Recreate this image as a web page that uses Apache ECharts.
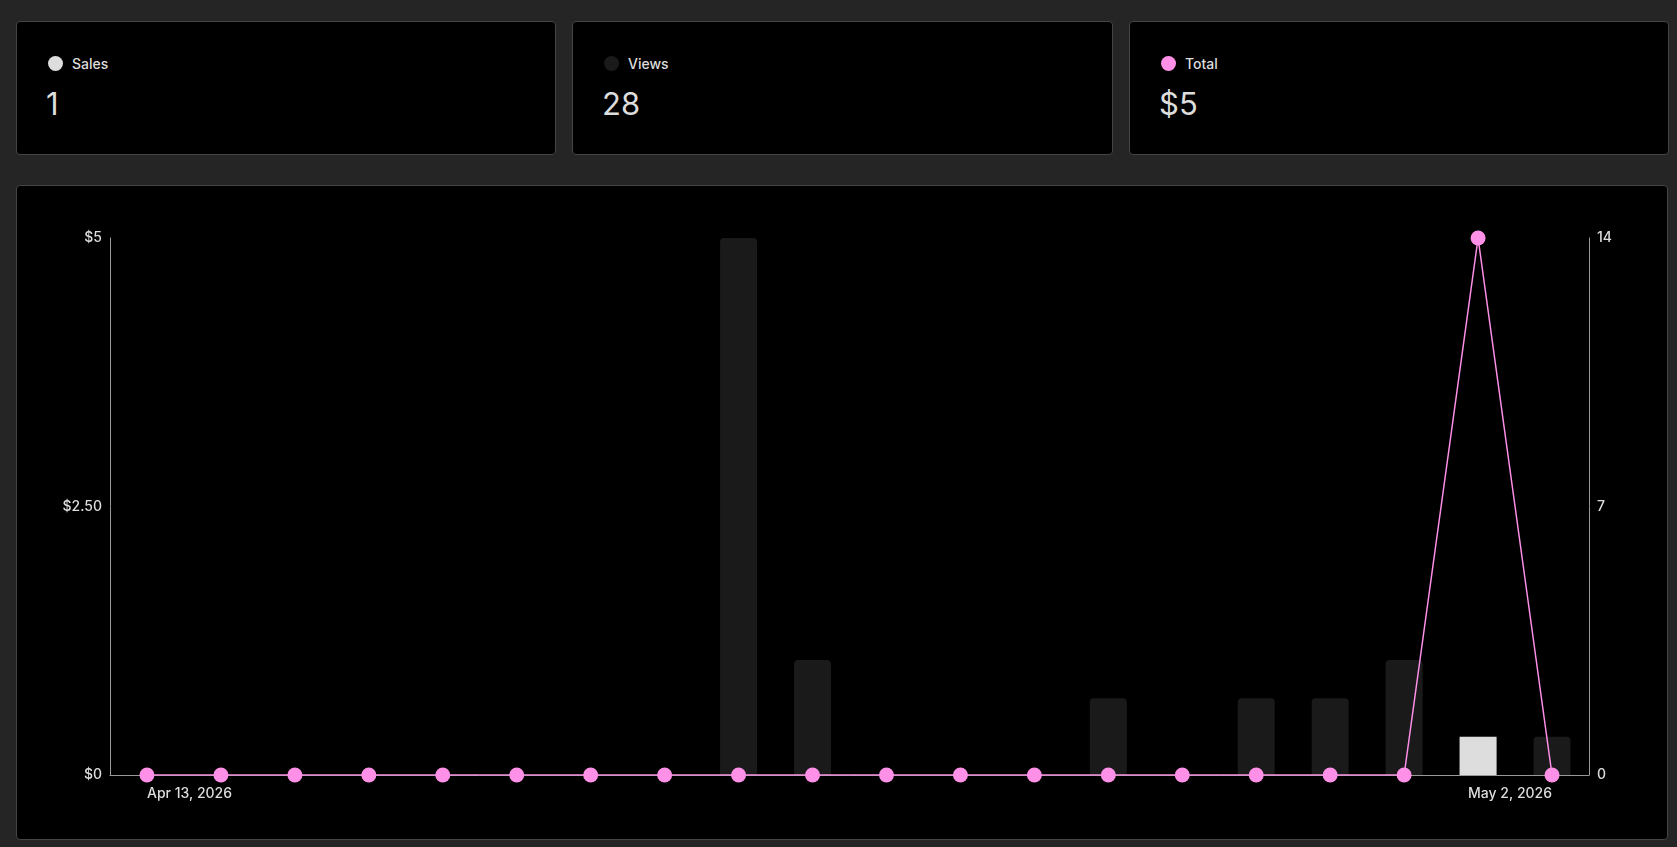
<!DOCTYPE html>
<html>
<head>
<meta charset="utf-8">
<script src="https://cdn.jsdelivr.net/npm/echarts@6/dist/echarts.min.js"></script>
<style>
  html, body { margin: 0; padding: 0; background: #252525; width: 1677px; height: 847px; overflow: hidden; font-family: Inter, "Noto Sans", sans-serif; }
  .card { position: absolute; top: 21px; height: 134px; background: #000; border: 1px solid #444; border-radius: 4px; box-sizing: border-box; }
  .lab { position: absolute; left: 31px; top: 33px; font-size: 14px; color: #ddd; display: flex; align-items: center; font-weight: 500; }
  .dot { width: 15px; height: 15px; border-radius: 50%; display: inline-block; margin-right: 9px; }
  .val { position: absolute; left: 29px; top: 63px; font-size: 31px; color: #ddd; }
  #panel { position: absolute; left: 16px; top: 185px; width: 1652px; height: 655px; background: #000; border: 1px solid #444; border-radius: 4px; box-sizing: border-box; }
  #chart { position: absolute; left: 0; top: 0; width: 1650px; height: 653px; }
</style>
</head>
<body>
<div class="card" style="left:16px;width:540px;"><div class="lab"><span class="dot" style="background:#dddddd"></span>Sales</div><div class="val">1</div></div>
<div class="card" style="left:572px;width:541px;"><div class="lab"><span class="dot" style="background:#1a1a1a"></span>Views</div><div class="val">28</div></div>
<div class="card" style="left:1129px;width:540px;"><div class="lab"><span class="dot" style="background:#ff90e8"></span>Total</div><div class="val">$5</div></div>
<div id="panel"><div id="chart"></div></div>
<script>
const dates = ['Apr 13, 2026','Apr 14, 2026','Apr 15, 2026','Apr 16, 2026','Apr 17, 2026','Apr 18, 2026','Apr 19, 2026','Apr 20, 2026','Apr 21, 2026','Apr 22, 2026','Apr 23, 2026','Apr 24, 2026','Apr 25, 2026','Apr 26, 2026','Apr 27, 2026','Apr 28, 2026','Apr 29, 2026','Apr 30, 2026','May 1, 2026','May 2, 2026'];
const views = [0,0,0,0,0,0,0,0,14,3,0,0,0,2,0,2,2,3,1,1];
const sales = [0,0,0,0,0,0,0,0,0,0,0,0,0,0,0,0,0,0,1,0];
const totals = [0,0,0,0,0,0,0,0,0,0,0,0,0,0,0,0,0,0,5,0];
const leftTicks = [0, 2.5, 5];
const rightTicks = [0, 7, 14];

const chart = echarts.init(document.getElementById('chart'), null, { renderer: 'canvas' });
const labelStyle = { color: '#dddddd', fontSize: 14, fontWeight: 500, fontFamily: 'Inter, sans-serif' };
chart.setOption({
  backgroundColor: 'transparent',
  animation: false,
  grid: { left: 93, right: 78, top: 52, bottom: 64 },
  xAxis: {
    type: 'category', data: dates, boundaryGap: true,
    axisLine: { lineStyle: { color: '#999999', width: 1 } },
    axisTick: { show: false },
    axisLabel: Object.assign({}, labelStyle, {
      margin: 12,
      interval: (i) => i === 0 || i === dates.length - 1,
      alignMinLabel: 'left', alignMaxLabel: 'right'
    })
  },
  yAxis: [
    {
      type: 'value', min: leftTicks[0], max: leftTicks[2], interval: leftTicks[1],
      axisLine: { show: true, lineStyle: { color: '#999999' } },
      axisTick: { show: false }, splitLine: { show: false },
      axisLabel: Object.assign({}, labelStyle, { margin: 8, formatter: (v) => v === 2.5 ? '$2.50' : '$' + v })
    },
    {
      type: 'value', min: rightTicks[0], max: rightTicks[2], interval: rightTicks[1],
      axisLine: { show: true, lineStyle: { color: '#999999' } },
      axisTick: { show: false }, splitLine: { show: false },
      axisLabel: Object.assign({}, labelStyle, { margin: 8 })
    }
  ],
  series: [
    { name: 'Views', type: 'bar', yAxisIndex: 1, data: views, barWidth: 37, barGap: '-100%',
      itemStyle: { color: '#1a1a1a', borderRadius: [4,4,0,0] } },
    { name: 'Sales', type: 'bar', yAxisIndex: 1, data: sales, barWidth: 37, barGap: '-100%',
      itemStyle: { color: '#dddddd', borderRadius: [0,0,0,0] } },
    { name: 'Total', type: 'line', yAxisIndex: 0, data: totals, symbol: 'circle', symbolSize: 15,
      lineStyle: { color: '#ff90e8', width: 1.5 }, itemStyle: { color: '#ff90e8' }, z: 5 }
  ]
});
</script>
</body>
</html>
